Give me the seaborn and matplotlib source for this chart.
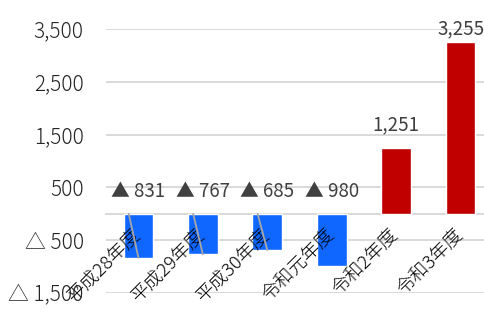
import matplotlib
matplotlib.use("Agg")
import matplotlib.pyplot as plt
import seaborn as sns
import pandas as pd

sns.set_theme(style="white")
plt.rcParams['font.family'] = ['Noto Sans CJK JP', 'DejaVu Sans']

categories = ["平成28年度", "平成29年度", "平成30年度", "令和元年度", "令和2年度", "令和3年度"]
values = [-831, -767, -685, -980, 1251, 3255]
ytick_values = [-1500, -500, 500, 1500, 2500, 3500]
ytick_labels = ["△ 1,500", "△ 500", "500", "1,500", "2,500", "3,500"]
# data labels that got a leader line in the original
has_leader = [True, True, True, False, False, False]

df = pd.DataFrame({"year": categories, "value": values})
df["sign"] = ["neg" if v < 0 else "pos" for v in values]

fig = plt.figure(figsize=(4.84, 3.29), dpi=100)
ax = fig.add_axes([106 / 484, 1 - 293 / 329, (493 - 106) / 484, (293 - 29) / 329])

sns.barplot(data=df, x="year", y="value", hue="sign",
            palette={"neg": "#0F67FF", "pos": "#C00000"},
            dodge=False, width=0.46, legend=False, ax=ax, saturation=1)

ax.set_ylim(-1500, 3500)
ax.set_yticks(ytick_values)
ax.set_yticklabels(ytick_labels)
ax.set_xlabel("")
ax.set_ylabel("")
# gridlines behind the bars, tick labels in front
ax.set_axisbelow(False)
for yv in ytick_values:
    ax.axhline(yv, color="#D9D9D9", linewidth=1.4, zorder=0.3)
for s in ["left", "right", "top"]:
    ax.spines[s].set_visible(False)
ax.spines["bottom"].set_position(("data", 0))
ax.spines["bottom"].set_color("#D9D9D9")
ax.spines["bottom"].set_linewidth(1.4)
ax.spines["bottom"].set_zorder(0.3)

ax.tick_params(axis="y", length=0, pad=16, labelsize=15, labelcolor="#262626")
ax.tick_params(axis="x", length=0, pad=13, labelsize=13.5, labelcolor="#000000")
for lab in ax.get_yticklabels():
    lab.set_fontweight("light")
for lab in ax.get_xticklabels():
    lab.set_fontweight("light")
    lab.set_rotation(45)
    lab.set_ha("right")
    lab.set_va("center")
    lab.set_rotation_mode("anchor")

top_limit = 3500
for i, v in enumerate(values):
    if v < 0:
        ax.annotate(f"▲ {abs(v):,}", (i, 0), xytext=(0, 16), textcoords="offset points",
                    ha="center", va="center", fontsize=13.5, color="#404040")
        if has_leader[i]:
            ax.plot([i - 0.15, i], [0, v], color="#A6A6A6", linewidth=1.3, zorder=3)
    else:
        off = 9 if v + 500 < top_limit else 2
        ax.annotate(f"{v:,}", (i, v), xytext=(0, off), textcoords="offset points",
                    ha="center", va="bottom", fontsize=13.5, color="#404040",
                    annotation_clip=False)

fig.savefig("out.png", dpi=100)
